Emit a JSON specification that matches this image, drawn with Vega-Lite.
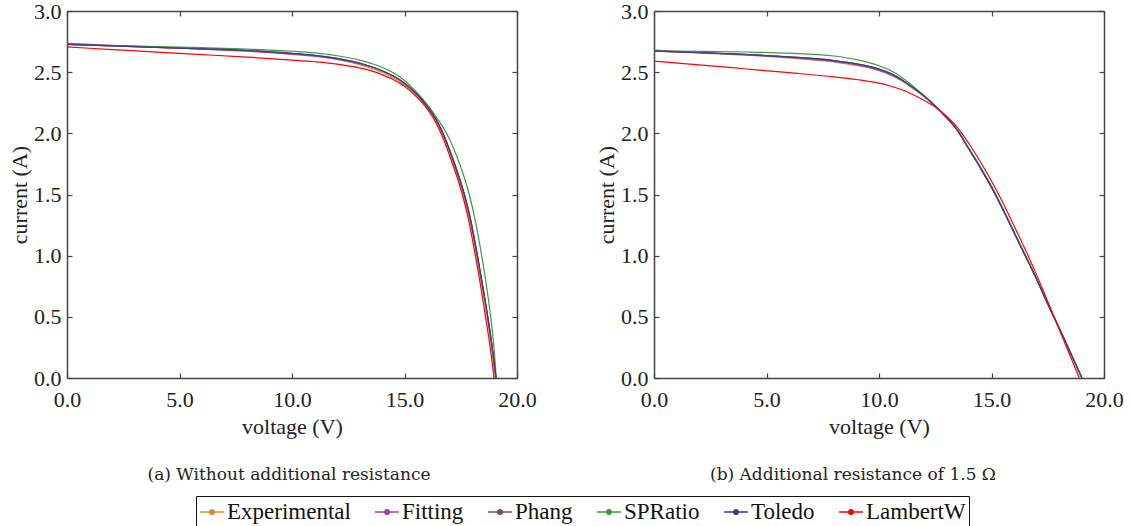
{
 "$schema": "https://vega.github.io/schema/vega-lite/v6.json",
 "background": "white",
 "padding": {"left": 8, "top": 0, "right": 5, "bottom": 0},
 "spacing": 58,
 "datasets": {
  "p1": [
   {"m":"Experimental","V":0,"I":2.727},{"m":"Experimental","V":2,"I":2.715},{"m":"Experimental","V":4,"I":2.703},{"m":"Experimental","V":6,"I":2.69},{"m":"Experimental","V":8,"I":2.675},{"m":"Experimental","V":10,"I":2.65},{"m":"Experimental","V":11,"I":2.633},{"m":"Experimental","V":12,"I":2.605},{"m":"Experimental","V":13,"I":2.562},{"m":"Experimental","V":13.5,"I":2.533},{"m":"Experimental","V":14,"I":2.499},{"m":"Experimental","V":14.5,"I":2.455},{"m":"Experimental","V":15,"I":2.397},{"m":"Experimental","V":15.5,"I":2.318},{"m":"Experimental","V":16,"I":2.21},{"m":"Experimental","V":16.4,"I":2.1},{"m":"Experimental","V":16.65,"I":2.01},{"m":"Experimental","V":17.15,"I":1.77},{"m":"Experimental","V":17.66,"I":1.47},{"m":"Experimental","V":17.95,"I":1.25},{"m":"Experimental","V":18.24,"I":0.965},{"m":"Experimental","V":18.47,"I":0.72},{"m":"Experimental","V":18.7,"I":0.46},{"m":"Experimental","V":18.89,"I":0.22},{"m":"Experimental","V":19.04,"I":0},
   {"m":"Fitting","V":0,"I":2.735},{"m":"Fitting","V":2,"I":2.72},{"m":"Fitting","V":4,"I":2.703},{"m":"Fitting","V":6,"I":2.688},{"m":"Fitting","V":8,"I":2.671},{"m":"Fitting","V":10,"I":2.646},{"m":"Fitting","V":11,"I":2.63},{"m":"Fitting","V":12,"I":2.606},{"m":"Fitting","V":13,"I":2.569},{"m":"Fitting","V":13.5,"I":2.546},{"m":"Fitting","V":14,"I":2.512},{"m":"Fitting","V":14.5,"I":2.468},{"m":"Fitting","V":15,"I":2.41},{"m":"Fitting","V":15.5,"I":2.33},{"m":"Fitting","V":16,"I":2.225},{"m":"Fitting","V":16.4,"I":2.115},{"m":"Fitting","V":16.65,"I":2.025},{"m":"Fitting","V":17.15,"I":1.79},{"m":"Fitting","V":17.66,"I":1.5},{"m":"Fitting","V":17.95,"I":1.283},{"m":"Fitting","V":18.24,"I":1.0},{"m":"Fitting","V":18.47,"I":0.758},{"m":"Fitting","V":18.7,"I":0.5},{"m":"Fitting","V":18.89,"I":0.263},{"m":"Fitting","V":19.07,"I":0},
   {"m":"Phang","V":0,"I":2.727},{"m":"Phang","V":2,"I":2.715},{"m":"Phang","V":4,"I":2.703},{"m":"Phang","V":6,"I":2.691},{"m":"Phang","V":8,"I":2.677},{"m":"Phang","V":10,"I":2.654},{"m":"Phang","V":11,"I":2.638},{"m":"Phang","V":12,"I":2.613},{"m":"Phang","V":13,"I":2.574},{"m":"Phang","V":13.5,"I":2.546},{"m":"Phang","V":14,"I":2.512},{"m":"Phang","V":14.5,"I":2.468},{"m":"Phang","V":15,"I":2.41},{"m":"Phang","V":15.5,"I":2.33},{"m":"Phang","V":16,"I":2.225},{"m":"Phang","V":16.4,"I":2.115},{"m":"Phang","V":16.65,"I":2.025},{"m":"Phang","V":17.15,"I":1.79},{"m":"Phang","V":17.66,"I":1.5},{"m":"Phang","V":17.95,"I":1.283},{"m":"Phang","V":18.24,"I":1.0},{"m":"Phang","V":18.47,"I":0.758},{"m":"Phang","V":18.7,"I":0.5},{"m":"Phang","V":18.89,"I":0.263},{"m":"Phang","V":19.07,"I":0},
   {"m":"SPRatio","V":0,"I":2.727},{"m":"SPRatio","V":2,"I":2.718},{"m":"SPRatio","V":4,"I":2.71},{"m":"SPRatio","V":6,"I":2.7},{"m":"SPRatio","V":8,"I":2.689},{"m":"SPRatio","V":10,"I":2.671},{"m":"SPRatio","V":11,"I":2.657},{"m":"SPRatio","V":12,"I":2.634},{"m":"SPRatio","V":13,"I":2.598},{"m":"SPRatio","V":13.5,"I":2.572},{"m":"SPRatio","V":14,"I":2.54},{"m":"SPRatio","V":14.5,"I":2.495},{"m":"SPRatio","V":15,"I":2.432},{"m":"SPRatio","V":15.5,"I":2.345},{"m":"SPRatio","V":16.1,"I":2.215},{"m":"SPRatio","V":16.5,"I":2.11},{"m":"SPRatio","V":16.87,"I":2.0},{"m":"SPRatio","V":17.37,"I":1.79},{"m":"SPRatio","V":17.88,"I":1.5},{"m":"SPRatio","V":18.15,"I":1.283},{"m":"SPRatio","V":18.43,"I":1.0},{"m":"SPRatio","V":18.64,"I":0.758},{"m":"SPRatio","V":18.83,"I":0.5},{"m":"SPRatio","V":18.97,"I":0.263},{"m":"SPRatio","V":19.08,"I":0},
   {"m":"Toledo","V":0,"I":2.727},{"m":"Toledo","V":2,"I":2.715},{"m":"Toledo","V":4,"I":2.703},{"m":"Toledo","V":6,"I":2.691},{"m":"Toledo","V":8,"I":2.677},{"m":"Toledo","V":10,"I":2.654},{"m":"Toledo","V":11,"I":2.638},{"m":"Toledo","V":12,"I":2.613},{"m":"Toledo","V":13,"I":2.574},{"m":"Toledo","V":13.5,"I":2.546},{"m":"Toledo","V":14,"I":2.512},{"m":"Toledo","V":14.5,"I":2.468},{"m":"Toledo","V":15,"I":2.41},{"m":"Toledo","V":15.5,"I":2.33},{"m":"Toledo","V":16,"I":2.225},{"m":"Toledo","V":16.4,"I":2.115},{"m":"Toledo","V":16.65,"I":2.025},{"m":"Toledo","V":17.15,"I":1.79},{"m":"Toledo","V":17.66,"I":1.5},{"m":"Toledo","V":17.95,"I":1.283},{"m":"Toledo","V":18.24,"I":1.0},{"m":"Toledo","V":18.47,"I":0.758},{"m":"Toledo","V":18.7,"I":0.5},{"m":"Toledo","V":18.89,"I":0.263},{"m":"Toledo","V":19.07,"I":0},
   {"m":"LambertW","V":0,"I":2.706},{"m":"LambertW","V":2,"I":2.685},{"m":"LambertW","V":4,"I":2.664},{"m":"LambertW","V":6,"I":2.644},{"m":"LambertW","V":8,"I":2.623},{"m":"LambertW","V":10,"I":2.599},{"m":"LambertW","V":11,"I":2.585},{"m":"LambertW","V":12,"I":2.566},{"m":"LambertW","V":13,"I":2.535},{"m":"LambertW","V":13.5,"I":2.512},{"m":"LambertW","V":14,"I":2.48},{"m":"LambertW","V":14.5,"I":2.44},{"m":"LambertW","V":15,"I":2.385},{"m":"LambertW","V":15.5,"I":2.305},{"m":"LambertW","V":15.91,"I":2.225},{"m":"LambertW","V":16.31,"I":2.115},{"m":"LambertW","V":16.56,"I":2.025},{"m":"LambertW","V":17.06,"I":1.79},{"m":"LambertW","V":17.57,"I":1.5},{"m":"LambertW","V":17.86,"I":1.283},{"m":"LambertW","V":18.15,"I":1.0},{"m":"LambertW","V":18.38,"I":0.758},{"m":"LambertW","V":18.6,"I":0.5},{"m":"LambertW","V":18.8,"I":0.263},{"m":"LambertW","V":18.98,"I":0}
  ],
  "p2": [
   {"m":"Experimental","V":0,"I":2.673},{"m":"Experimental","V":2,"I":2.658},{"m":"Experimental","V":4,"I":2.64},{"m":"Experimental","V":6,"I":2.617},{"m":"Experimental","V":8,"I":2.583},{"m":"Experimental","V":9,"I":2.555},{"m":"Experimental","V":10,"I":2.512},{"m":"Experimental","V":10.5,"I":2.478},{"m":"Experimental","V":11,"I":2.43},{"m":"Experimental","V":11.5,"I":2.368},{"m":"Experimental","V":12,"I":2.3},{"m":"Experimental","V":12.5,"I":2.222},{"m":"Experimental","V":13,"I":2.128},{"m":"Experimental","V":13.5,"I":2.02},{"m":"Experimental","V":14,"I":1.87},{"m":"Experimental","V":14.5,"I":1.72},{"m":"Experimental","V":15,"I":1.56},{"m":"Experimental","V":15.5,"I":1.38},{"m":"Experimental","V":16,"I":1.19},{"m":"Experimental","V":16.5,"I":1.0},{"m":"Experimental","V":17,"I":0.81},{"m":"Experimental","V":17.5,"I":0.605},{"m":"Experimental","V":18,"I":0.41},{"m":"Experimental","V":18.5,"I":0.21},{"m":"Experimental","V":19.02,"I":0},
   {"m":"Fitting","V":0,"I":2.68},{"m":"Fitting","V":2,"I":2.662},{"m":"Fitting","V":4,"I":2.643},{"m":"Fitting","V":6,"I":2.62},{"m":"Fitting","V":8,"I":2.588},{"m":"Fitting","V":9,"I":2.56},{"m":"Fitting","V":10,"I":2.517},{"m":"Fitting","V":10.5,"I":2.483},{"m":"Fitting","V":11,"I":2.435},{"m":"Fitting","V":11.5,"I":2.375},{"m":"Fitting","V":12,"I":2.305},{"m":"Fitting","V":12.5,"I":2.222},{"m":"Fitting","V":13,"I":2.128},{"m":"Fitting","V":13.5,"I":2.02},{"m":"Fitting","V":14,"I":1.87},{"m":"Fitting","V":14.5,"I":1.72},{"m":"Fitting","V":15,"I":1.56},{"m":"Fitting","V":15.5,"I":1.38},{"m":"Fitting","V":16,"I":1.19},{"m":"Fitting","V":16.5,"I":1.0},{"m":"Fitting","V":17,"I":0.81},{"m":"Fitting","V":17.5,"I":0.605},{"m":"Fitting","V":18,"I":0.41},{"m":"Fitting","V":18.5,"I":0.21},{"m":"Fitting","V":19.02,"I":0},
   {"m":"Phang","V":0,"I":2.673},{"m":"Phang","V":2,"I":2.66},{"m":"Phang","V":4,"I":2.645},{"m":"Phang","V":6,"I":2.625},{"m":"Phang","V":8,"I":2.595},{"m":"Phang","V":9,"I":2.568},{"m":"Phang","V":10,"I":2.525},{"m":"Phang","V":10.5,"I":2.49},{"m":"Phang","V":11,"I":2.44},{"m":"Phang","V":11.5,"I":2.375},{"m":"Phang","V":12,"I":2.305},{"m":"Phang","V":12.5,"I":2.222},{"m":"Phang","V":13,"I":2.128},{"m":"Phang","V":13.5,"I":2.02},{"m":"Phang","V":14,"I":1.87},{"m":"Phang","V":14.5,"I":1.72},{"m":"Phang","V":15,"I":1.56},{"m":"Phang","V":15.5,"I":1.38},{"m":"Phang","V":16,"I":1.19},{"m":"Phang","V":16.5,"I":1.0},{"m":"Phang","V":17,"I":0.81},{"m":"Phang","V":17.5,"I":0.605},{"m":"Phang","V":18,"I":0.41},{"m":"Phang","V":18.5,"I":0.21},{"m":"Phang","V":19.02,"I":0},
   {"m":"SPRatio","V":0,"I":2.673},{"m":"SPRatio","V":2,"I":2.67},{"m":"SPRatio","V":4,"I":2.665},{"m":"SPRatio","V":6,"I":2.655},{"m":"SPRatio","V":8,"I":2.632},{"m":"SPRatio","V":9,"I":2.602},{"m":"SPRatio","V":10,"I":2.552},{"m":"SPRatio","V":10.5,"I":2.515},{"m":"SPRatio","V":11,"I":2.458},{"m":"SPRatio","V":11.5,"I":2.388},{"m":"SPRatio","V":12,"I":2.31},{"m":"SPRatio","V":12.5,"I":2.226},{"m":"SPRatio","V":13,"I":2.133},{"m":"SPRatio","V":13.5,"I":2.025},{"m":"SPRatio","V":14,"I":1.877},{"m":"SPRatio","V":14.5,"I":1.727},{"m":"SPRatio","V":15,"I":1.567},{"m":"SPRatio","V":15.5,"I":1.387},{"m":"SPRatio","V":16,"I":1.197},{"m":"SPRatio","V":16.5,"I":1.007},{"m":"SPRatio","V":17,"I":0.815},{"m":"SPRatio","V":17.5,"I":0.61},{"m":"SPRatio","V":18,"I":0.412},{"m":"SPRatio","V":18.5,"I":0.212},{"m":"SPRatio","V":19.02,"I":0},
   {"m":"Toledo","V":0,"I":2.673},{"m":"Toledo","V":2,"I":2.66},{"m":"Toledo","V":4,"I":2.645},{"m":"Toledo","V":6,"I":2.625},{"m":"Toledo","V":8,"I":2.595},{"m":"Toledo","V":9,"I":2.568},{"m":"Toledo","V":10,"I":2.525},{"m":"Toledo","V":10.5,"I":2.49},{"m":"Toledo","V":11,"I":2.44},{"m":"Toledo","V":11.5,"I":2.375},{"m":"Toledo","V":12,"I":2.305},{"m":"Toledo","V":12.5,"I":2.222},{"m":"Toledo","V":13,"I":2.128},{"m":"Toledo","V":13.5,"I":2.02},{"m":"Toledo","V":14,"I":1.87},{"m":"Toledo","V":14.5,"I":1.72},{"m":"Toledo","V":15,"I":1.56},{"m":"Toledo","V":15.5,"I":1.38},{"m":"Toledo","V":16,"I":1.19},{"m":"Toledo","V":16.5,"I":1.0},{"m":"Toledo","V":17,"I":0.81},{"m":"Toledo","V":17.5,"I":0.605},{"m":"Toledo","V":18,"I":0.41},{"m":"Toledo","V":18.5,"I":0.21},{"m":"Toledo","V":19.02,"I":0},
   {"m":"LambertW","V":0,"I":2.591},{"m":"LambertW","V":2,"I":2.56},{"m":"LambertW","V":4,"I":2.528},{"m":"LambertW","V":6,"I":2.496},{"m":"LambertW","V":8,"I":2.462},{"m":"LambertW","V":9,"I":2.44},{"m":"LambertW","V":10,"I":2.41},{"m":"LambertW","V":10.5,"I":2.387},{"m":"LambertW","V":11,"I":2.358},{"m":"LambertW","V":11.5,"I":2.318},{"m":"LambertW","V":12,"I":2.27},{"m":"LambertW","V":12.5,"I":2.215},{"m":"LambertW","V":13,"I":2.14},{"m":"LambertW","V":13.5,"I":2.045},{"m":"LambertW","V":14,"I":1.915},{"m":"LambertW","V":14.5,"I":1.77},{"m":"LambertW","V":15,"I":1.61},{"m":"LambertW","V":15.5,"I":1.435},{"m":"LambertW","V":16,"I":1.245},{"m":"LambertW","V":16.5,"I":1.05},{"m":"LambertW","V":17,"I":0.845},{"m":"LambertW","V":17.5,"I":0.625},{"m":"LambertW","V":18,"I":0.4},{"m":"LambertW","V":18.5,"I":0.18},{"m":"LambertW","V":18.9,"I":0}
  ]
 },
 "config": {
  "view": {"stroke": null},
  "axis": {"labelFont": "'Liberation Serif', 'DejaVu Serif', serif", "labelFontSize": 22, "labelColor": "#222", "titleFont": "'Liberation Serif', 'DejaVu Serif', serif", "titleFontSize": 22, "titleFontWeight": "normal", "titleColor": "#222", "domainColor": "#444", "domainWidth": 1.5, "tickColor": "#444", "tickWidth": 1.2, "tickSize": -5, "grid": false, "labelFlush": false, "labelOverlap": false},
  "title": {"font": "DejaVu Serif", "fontSize": 17, "fontWeight": "normal", "color": "#222"},
  "legend": {
   "orient": "none", "legendX": 129, "legendY": 485, "direction": "horizontal",
   "strokeColor": "#111", "padding": 3,
   "labelFont": "'Liberation Serif', 'DejaVu Serif', serif", "labelFontSize": 23, "labelColor": "#111",
   "symbolType": "M-1,0H1M-0.2,0a0.2,0.2 0 1,0 0.4,0a0.2,0.2 0 1,0 -0.4,0",
   "symbolSize": 576, "symbolStrokeWidth": 1.3, "labelOffset": 2, "columnPadding": 21,
   "titleFontSize": 0
  }
 },
 "hconcat": [
  {
   "width": 450, "height": 367,
   "data": {"name": "p1"},
   "title": {"text": "(a) Without additional resistance", "orient": "bottom", "offset": 30, "dx": -3},
   "layer": [
    {"mark": {"type": "line", "strokeWidth": 1.2, "interpolate": "monotone"},
     "encoding": {
      "x": {"field": "V", "type": "quantitative", "scale": {"domain": [0, 20]}, "axis": {"orient": "bottom", "values": [0, 5, 10, 15, 20], "format": ".1f", "title": "voltage (V)", "labelPadding": 16, "titlePadding": 6}},
      "y": {"field": "I", "type": "quantitative", "scale": {"domain": [0, 3]}, "axis": {"orient": "left", "values": [0, 0.5, 1, 1.5, 2, 2.5, 3], "format": ".1f", "title": "current (A)", "labelPadding": 11, "titlePadding": 2}},
      "color": {"field": "m", "type": "nominal", "title": null,
       "scale": {"domain": ["Experimental", "Fitting", "Phang", "SPRatio", "Toledo", "LambertW"], "range": ["#e08a2e", "#a441b0", "#7a5446", "#3e9a3e", "#3a3a98", "#ff0000"]},
       "legend": {"encode": {"symbols": {"update": {"fill": {"scale": "color", "field": "value"}, "fillOpacity": {"value": 1}}}}}}
     }},
    {"mark": {"type": "point", "opacity": 0},
     "encoding": {
      "x": {"field": "V", "type": "quantitative", "axis": {"orient": "top", "values": [0, 5, 10, 15, 20], "labels": false, "title": null}},
      "y": {"field": "I", "type": "quantitative", "axis": {"orient": "right", "values": [0, 0.5, 1, 1.5, 2, 2.5, 3], "labels": false, "title": null}}
     }}
   ]
  },
  {
   "width": 450, "height": 367,
   "data": {"name": "p2"},
   "title": {"text": "(b) Additional resistance of 1.5 Ω", "orient": "bottom", "offset": 30, "dx": -26},
   "layer": [
    {"mark": {"type": "line", "strokeWidth": 1.2, "interpolate": "monotone"},
     "encoding": {
      "x": {"field": "V", "type": "quantitative", "scale": {"domain": [0, 20]}, "axis": {"orient": "bottom", "values": [0, 5, 10, 15, 20], "format": ".1f", "title": "voltage (V)", "labelPadding": 16, "titlePadding": 6}},
      "y": {"field": "I", "type": "quantitative", "scale": {"domain": [0, 3]}, "axis": {"orient": "left", "values": [0, 0.5, 1, 1.5, 2, 2.5, 3], "format": ".1f", "title": "current (A)", "labelPadding": 11, "titlePadding": 2}},
      "color": {"field": "m", "type": "nominal", "title": null,
       "scale": {"domain": ["Experimental", "Fitting", "Phang", "SPRatio", "Toledo", "LambertW"], "range": ["#e08a2e", "#a441b0", "#7a5446", "#3e9a3e", "#3a3a98", "#ff0000"]}}
     }},
    {"mark": {"type": "point", "opacity": 0},
     "encoding": {
      "x": {"field": "V", "type": "quantitative", "axis": {"orient": "top", "values": [0, 5, 10, 15, 20], "labels": false, "title": null}},
      "y": {"field": "I", "type": "quantitative", "axis": {"orient": "right", "values": [0, 0.5, 1, 1.5, 2, 2.5, 3], "labels": false, "title": null}}
     }}
   ]
  }
 ]
}
